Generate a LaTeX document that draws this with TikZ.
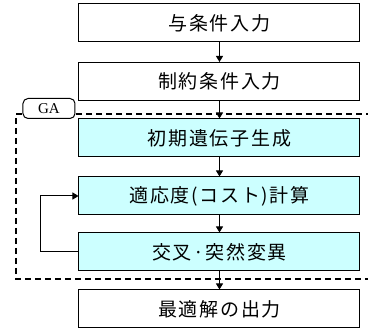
\documentclass[tikz,border=0pt]{standalone}
\usepackage{fontspec}
\newfontfamily\jp[LetterSpace=9]{Noto Sans CJK JP}
\newfontfamily\gafont{Liberation Serif}
\usetikzlibrary{arrows.meta}
\definecolor{boxcyan}{RGB}{204,255,255}
\tikzset{
  stepbox/.style={draw, line width=1pt, minimum width=281pt, minimum height=38pt, inner sep=0pt, font=\jp\fontsize{19pt}{19pt}\selectfont},
  gabox/.style={stepbox, fill=boxcyan},
  arr/.style={line width=1pt, -{Triangle[length=6pt,width=7pt]}},
  frame/.style={line width=1.2pt, dash pattern=on 6pt off 4pt}
}
\begin{document}
\begin{tikzpicture}[x=1pt,y=-1pt]
\useasboundingbox (0,0) rectangle (368,331);
\draw[frame] (372,114) -- (16,114) -- (16,279) -- (372,279);
\node[draw, rounded corners=5pt, line width=1pt, fill=white, minimum width=52pt, minimum height=20pt, inner sep=0pt, font=\gafont\fontsize{15pt}{15pt}\selectfont] (ga) at (49,108.5) {GA};
\node[stepbox] (b1) at (219.5,23) {与条件入力};
\node[stepbox] (b2) at (219.5,81.5) {制約条件入力};
\node[gabox] (b3) at (219.5,138) {初期遺伝子生成};
\node[gabox] (b4) at (219.5,196) {適応度(コスト)計算};
\node[gabox] (b5) at (219.5,252) {交叉·突然変異};
\node[stepbox] (b6) at (219.5,309) {最適解の出力};
\draw[arr] (b1) -- (b2);
\draw[arr] (b2) -- (b3);
\draw[arr] (b3) -- (b4);
\draw[arr] (b4) -- (b5);
\draw[arr] (b5) -- (b6);
\draw[arr] (b5.west) -- (41,252) |- (b4.west);
\end{tikzpicture}
\end{document}
